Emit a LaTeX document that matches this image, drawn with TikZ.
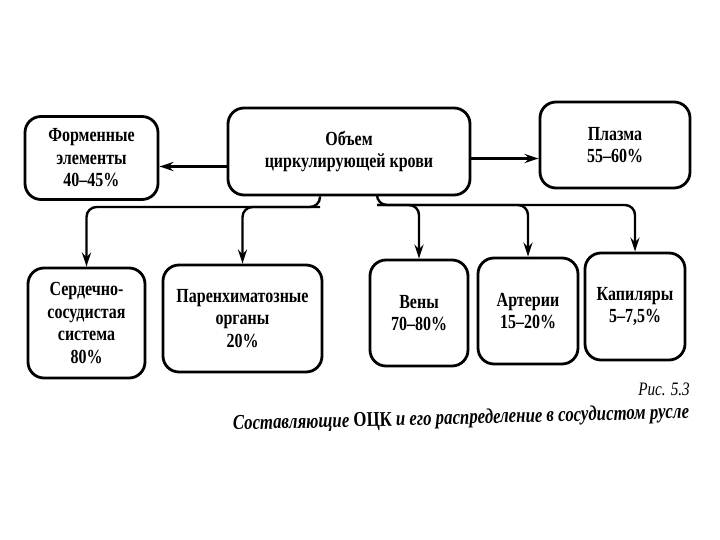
\documentclass[tikz,border=0pt]{standalone}
\usepackage{fontspec}
\setmainfont{Liberation Serif}[FakeStretch=0.8]
\usetikzlibrary{positioning, arrows.meta}

\begin{document}
\begin{tikzpicture}[
    x=1pt, y=-1pt,
    >={Stealth[length=14pt, width=9pt]},
    font=\fontsize{20}{22.5}\selectfont\bfseries,
    block/.style={
        rectangle, draw, line width=2.8pt, rounded corners=16pt,
        align=center, inner sep=2pt
    },
    arrow/.style={->, line width=2.4pt},
    bus/.style={->, line width=2.4pt, rounded corners=10pt}
]

\useasboundingbox (0,0) rectangle (720,540);

%% ─── TOP ROW ────────────────────────────────────────────────────────────

\node[block, minimum width=133pt, minimum height=83pt] (frm) at (91.5,158)
    {Форменные\\элементы\\40--45\%};
\node[block, minimum width=242pt, minimum height=87pt] (ctr) at (349,151.5)
    {Объем\\циркулирующей крови};
\node[block, minimum width=150pt, minimum height=86pt] (plz) at (615,145)
    {Плазма\\55--60\%};

%% ─── BOTTOM ROW ─────────────────────────────────────────────────────────

\node[block, minimum width=117pt, minimum height=110pt] (cvs) at (86.5,323)
    {Сердечно-\\сосудистая\\система\\80\%};
\node[block, minimum width=159pt, minimum height=107pt] (par) at (242.5,318.5)
    {Паренхиматозные\\органы\\20\%};
\node[block, minimum width=98pt, minimum height=106pt]  (ven) at (419,313)
    {Вены\\70--80\%};
\node[block, minimum width=100pt, minimum height=106pt] (art) at (528,311)
    {Артерии\\15--20\%};
\node[block, minimum width=100pt, minimum height=107pt] (kap) at (635,306.5)
    {Капиляры\\5--7,5\%};

%% ─── TOP ROW ARROWS ─────────────────────────────────────────────────────

\draw[arrow] ([yshift=-15pt]ctr.west) -- ([yshift=-15pt]ctr.west -| frm.east);
\draw[arrow] ([yshift=-7pt]ctr.east)  -- ([yshift=-7pt]ctr.east -| plz.west);

%% ─── DISTRIBUTION BUSES ─────────────────────────────────────────────────

\coordinate (jL) at (320,207);
\coordinate (jR) at (377,205);

% left bus: heart + parenchyma
\draw[bus] (ctr.south -| jL) -- (jL) -| (cvs.north);
\draw[bus] (jL) -| (par.north);

% right bus: veins, arteries, capillaries
\draw[bus] (ctr.south -| jR) -- (jR) -| (kap.north);
\draw[bus] (jR) -| (ven.north);
\draw[bus] (jR) -| (art.north);

%% ─── CAPTION ────────────────────────────────────────────────────────────

\node[font=\fontsize{19}{21}\selectfont\itshape, anchor=east, inner sep=0pt] (fig) at (690,389)
    {Рис. 5.3};
\node[font=\fontsize{21}{24}\selectfont\bfseries\itshape, rotate=1.5, inner sep=0pt] (title) at (461,419)
    {Составляющие {\upshape ОЦК} и его распределение в сосудистом русле};

\end{tikzpicture}
\end{document}
